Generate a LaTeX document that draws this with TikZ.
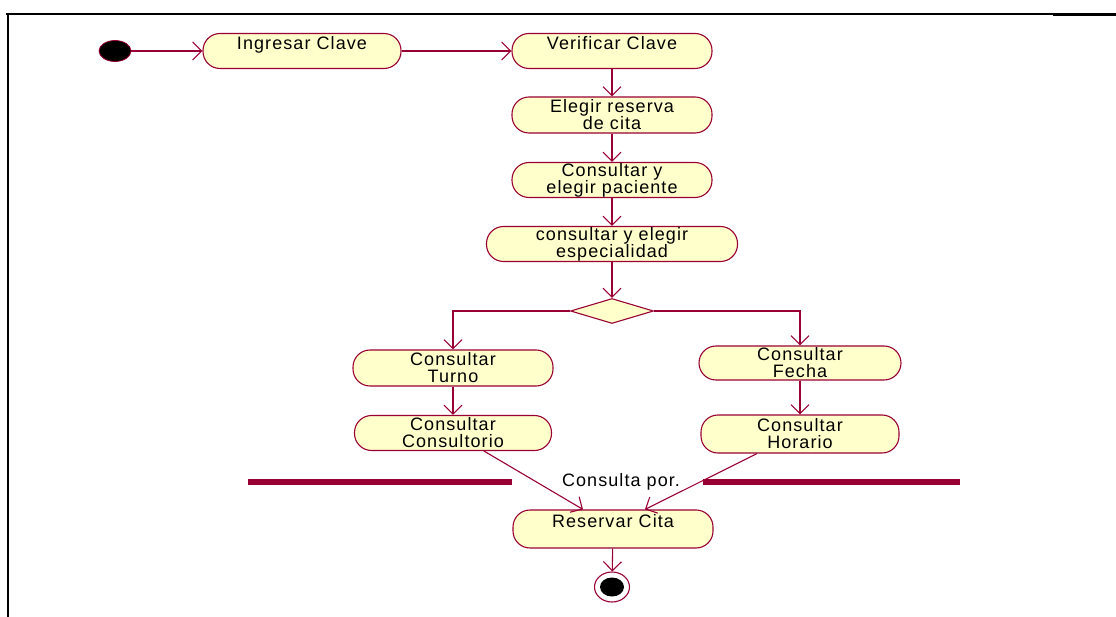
\documentclass[tikz,border=0pt]{standalone}
\usepackage{fontspec}
\setmainfont{Liberation Sans}[LetterSpace=6]
\usetikzlibrary{arrows.meta,shapes.geometric,calc}
\definecolor{umlline}{RGB}{153,0,51}
\definecolor{umlfill}{RGB}{255,255,204}
\begin{document}
\begin{tikzpicture}[x=1pt,y=-1pt,
  act/.style={draw=umlline, fill=umlfill, line width=1.1pt, rounded corners=17pt,
    inner sep=0pt, align=center, font=\fontsize{18}{17}\selectfont},
  flow/.style={draw=umlline, line width=1.1pt,
    -{Straight Barb[length=9pt,width=18pt,line width=1.1pt]}},
  syncbar/.style={fill=umlline, draw=none, minimum height=6pt, inner sep=0pt},
  frameline/.style={draw=black, line cap=rect}]
\useasboundingbox (0,0) rectangle (1116,617);

% page frame
\draw[frameline, line width=1.5pt] (7,14) -- (1116,14);
\draw[frameline, line width=2.6pt] (7,14) -- (84,14);
\draw[frameline, line width=3pt] (1054,14.5) -- (1116,14.5);
\draw[frameline, line width=2.6pt] (8,14) -- (8,617);

% start and end states
\node[ellipse, fill=black, draw=umlline, line width=0.8pt, minimum width=32pt, minimum height=21pt, inner sep=0pt] (init) at (115,51) {};
\node[ellipse, fill=white, draw=umlline, line width=1.1pt, minimum width=35pt, minimum height=30pt, inner sep=0pt] (final) at (612,587) {};
\node[ellipse, fill=black, minimum width=24pt, minimum height=19pt, inner sep=0pt] (finalin) at (final.center) {};

% activities
\node[act, minimum width=198pt, minimum height=35pt] (ing) at (302,51) {Ingresar Clave\\\mbox{}};
\node[act, minimum width=200pt, minimum height=35pt] (ver) at (612,51) {Verificar Clave\\\mbox{}};
\node[act, minimum width=200pt, minimum height=36pt] (ele) at (612,115) {Elegir reserva\\de cita};
\node[act, minimum width=200pt, minimum height=35pt] (pac) at (612,180) {Consultar y\\elegir paciente};
\node[act, minimum width=251pt, minimum height=35pt] (esp) at (612,244) {consultar y elegir\\especialidad};
\node[diamond, draw=umlline, fill=umlfill, line width=1.1pt, aspect=3.3, minimum width=83pt, minimum height=25pt, inner sep=0pt] (dec) at (612,311) {};
\node[act, minimum width=200pt, minimum height=36pt] (tur) at (453,368) {Consultar\\Turno};
\node[act, minimum width=197pt, minimum height=35pt] (cons) at (453,433) {Consultar\\Consultorio};
\node[act, minimum width=202pt, minimum height=34pt] (fec) at (800,363) {Consultar\\Fecha};
\node[act, minimum width=198pt, minimum height=38pt] (hor) at (800,434) {Consultar\\Horario};
\node[act, minimum width=200pt, minimum height=38pt] (res) at (613,529) {Reservar Cita\\\mbox{}};

% bars and label
\node[syncbar, minimum width=264pt] (barL) at (380,482) {};
\node[syncbar, minimum width=257pt] (barR) at (831.5,482) {};
\node[font=\fontsize{18}{17}\selectfont, inner sep=0pt] (lbl) at (621,482) {Consulta por.};

% flows
\draw[flow] (init) -- (ing);
\draw[flow] (ing) -- (ver);
\draw[flow] (ver) -- (ele);
\draw[flow] (ele) -- (pac);
\draw[flow] (pac) -- (esp);
\draw[flow] (esp) -- (dec);
\draw[flow] (dec.west) -| (tur.north);
\draw[flow] (dec.east) -| (fec.north);
\draw[flow] (tur) -- (cons);
\draw[flow] (fec) -- (hor);
\draw[flow] ([xshift=31pt]cons.south) -- ([xshift=-30pt]res.north);
\draw[flow] ([xshift=-43pt]hor.south) -- ([xshift=32pt]res.north);
\draw[flow] (res) -- (final);
\end{tikzpicture}
\end{document}
